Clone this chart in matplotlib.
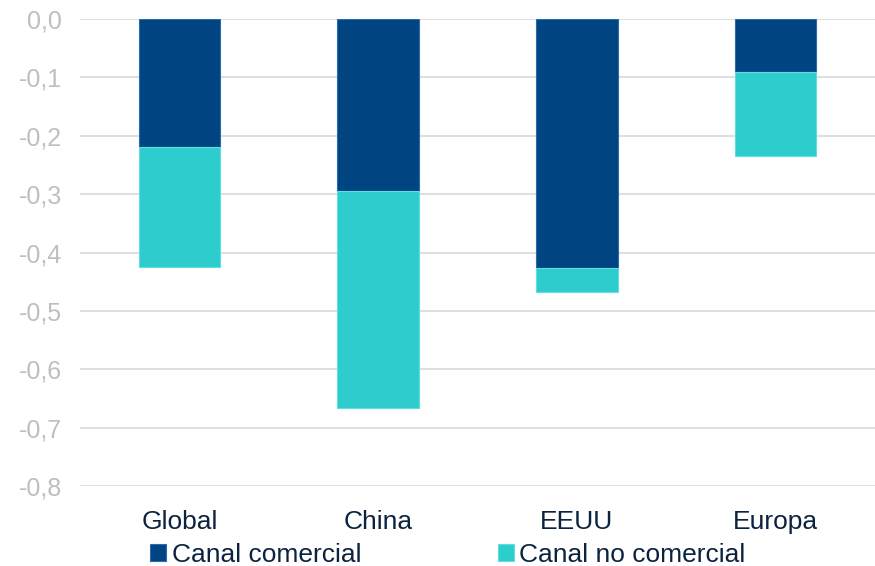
import matplotlib
matplotlib.use("Agg")
import matplotlib.pyplot as plt
from matplotlib.ticker import FuncFormatter

plt.rcParams['font.family'] = ['Liberation Sans', 'DejaVu Sans']

# datos
categorias = ["Global", "China", "EEUU", "Europa"]
canal_comercial = [-0.22, -0.295, -0.427, -0.091]
canal_no_comercial = [-0.205, -0.372, -0.041, -0.144]

AZUL = "#004481"
CIAN = "#2DCCCD"
GRIS = "#BFBFBF"
TEXTO = "#0C2340"

fig = plt.figure(figsize=(8.75, 5.66), dpi=100)
ax = fig.add_axes([0.0914, 0.1413, 0.9086, 0.8251])

x = range(len(categorias))
ax.bar(x, canal_comercial, width=0.41, color=AZUL, edgecolor="#2A6CB0",
       linewidth=0.8, label="Canal comercial", zorder=3)
ax.bar(x, canal_no_comercial, width=0.41, bottom=canal_comercial, color=CIAN,
       edgecolor="#5FE0E0", linewidth=0.8, label="Canal no comercial", zorder=3)

ax.set_ylim(-0.8, 0.0)
ax.set_xlim(-0.5, 3.5)
ax.set_yticks([i / 10 for i in range(-8, 1)])
ax.yaxis.set_major_formatter(FuncFormatter(lambda v, p: ("%.1f" % v).replace(".", ",").replace("-0,0", "0,0")))
ax.grid(axis="y", color="#D9D9D9", linewidth=1.2, zorder=0)
ax.set_xticks(list(x))
ax.set_xticklabels(categorias, fontsize=19, color=TEXTO)
for s in ax.spines.values():
    s.set_visible(False)
ax.tick_params(axis="y", length=0, labelsize=18, labelcolor=GRIS, pad=13)
ax.tick_params(axis="x", length=0, pad=17)

fig.legend(loc="center", bbox_to_anchor=(0.512, 0.0194), ncol=2, frameon=False,
           fontsize=19, handlelength=0.6, handleheight=0.6, handletextpad=0.2,
           columnspacing=5.2, labelcolor=TEXTO, borderpad=0, borderaxespad=0)

fig.savefig("out.png", dpi=100)
